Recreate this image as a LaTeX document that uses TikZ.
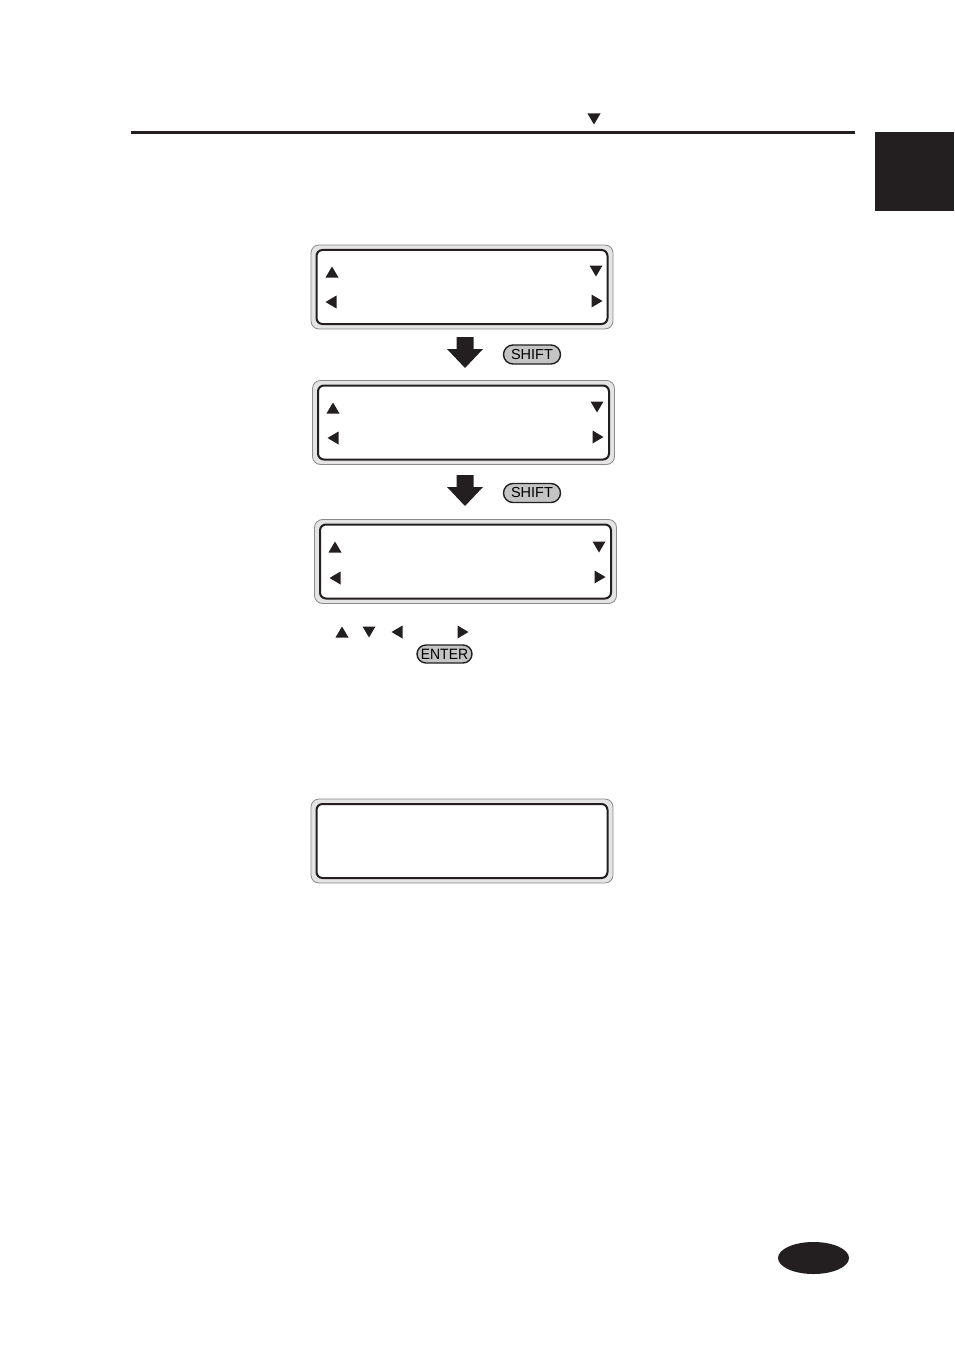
\documentclass[tikz,border=0pt]{standalone}
\usepackage{fontspec}
\setmainfont{Liberation Sans}
\usetikzlibrary{shapes.geometric}
\definecolor{ink}{HTML}{231F20}
\definecolor{bandgray}{HTML}{E4E4E4}
\definecolor{edgegray}{HTML}{8A8A8A}
\definecolor{keygray}{HTML}{C4C4C4}
\tikzset{
  lcdout/.style={draw=edgegray, line width=0.8pt, fill=bandgray, rounded corners=8pt, minimum width=302pt, minimum height=84pt, inner sep=0pt},
  lcdin/.style={draw=ink, line width=2pt, fill=white, rounded corners=6pt, minimum width=291pt, minimum height=74pt, inner sep=0pt},
  keybtn/.style={draw=ink, line width=1.4pt, fill=keygray, rounded corners=9.5pt, minimum width=57pt, minimum height=19pt, inner sep=0pt, font=\fontsize{14.5}{15}\selectfont},
  bigarrow/.style={fill=ink},
  tup/.pic={\fill[ink] (0,-5.5)--(6.5,5.5)--(-6.5,5.5)--cycle;},
  tdown/.pic={\fill[ink] (-6.5,-5.5)--(6.5,-5.5)--(0,5.5)--cycle;},
  tleft/.pic={\fill[ink] (-5.5,0)--(5.5,-6.5)--(5.5,6.5)--cycle;},
  tright/.pic={\fill[ink] (5.5,0)--(-5.5,-6.5)--(-5.5,6.5)--cycle;},
}
\begin{document}
\begin{tikzpicture}[x=1pt,y=-1pt]
\useasboundingbox (0,0) rectangle (954,1348);
\fill[white] (0,0) rectangle (954,1348);
% header
\draw[ink, line width=3pt] (131,133) -- (855,133);
\pic at (594,119) {tdown};
\fill[ink] (875,132) rectangle (954,211);
% LCD 1
\node[lcdout] (o1) at (462,287) {};
\node[lcdin] (i1) at (o1.center) {};
\pic at (332,272) {tup};
\pic at (596,271) {tdown};
\pic at (331,302) {tleft};
\pic at (597,301) {tright};
% arrow 1
\coordinate (a1) at (465,337);
\fill[bigarrow] ([xshift=-8.5pt]a1) -- ++(0,12) -- ++(-9.5,0) -- (465,368) -- (483,349) -- ++(-9.5,0) -- ++(0,-12) -- cycle;
\node[keybtn] (s1) at (532,354.5) {SHIFT};
% LCD 2
\node[lcdout] (o2) at (463.5,422.5) {};
\node[lcdin] (i2) at (o2.center) {};
\pic at (333,408) {tup};
\pic at (597,407) {tdown};
\pic at (333,438) {tleft};
\pic at (598,437) {tright};
% arrow 2
\coordinate (a2) at (465,475);
\fill[bigarrow] ([xshift=-8.5pt]a2) -- ++(0,12) -- ++(-9.5,0) -- (465,506) -- (483,487) -- ++(-9.5,0) -- ++(0,-12) -- cycle;
\node[keybtn] (s2) at (532,493) {SHIFT};
% LCD 3
\node[lcdout] (o3) at (465.5,561.5) {};
\node[lcdin] (i3) at (o3.center) {};
\pic at (335,547) {tup};
\pic at (599,547) {tdown};
\pic at (335,578) {tleft};
\pic at (600,577) {tright};
% key row
\pic at (342,632) {tup};
\pic at (369,632) {tdown};
\pic at (397,632) {tleft};
\pic at (463,632) {tright};
\node[keybtn, minimum width=55pt, minimum height=18pt, rounded corners=9pt, font=\fontsize{15}{15}\selectfont] (en) at (444.5,654) {\scalebox{0.93}[1]{ENTER}};
% LCD 4
\node[lcdout] (o4) at (462,841) {};
\node[lcdin] (i4) at (o4.center) {};
% page oval
\fill[ink] (813.5,1258) ellipse [x radius=35.5, y radius=16];
\end{tikzpicture}
\end{document}
